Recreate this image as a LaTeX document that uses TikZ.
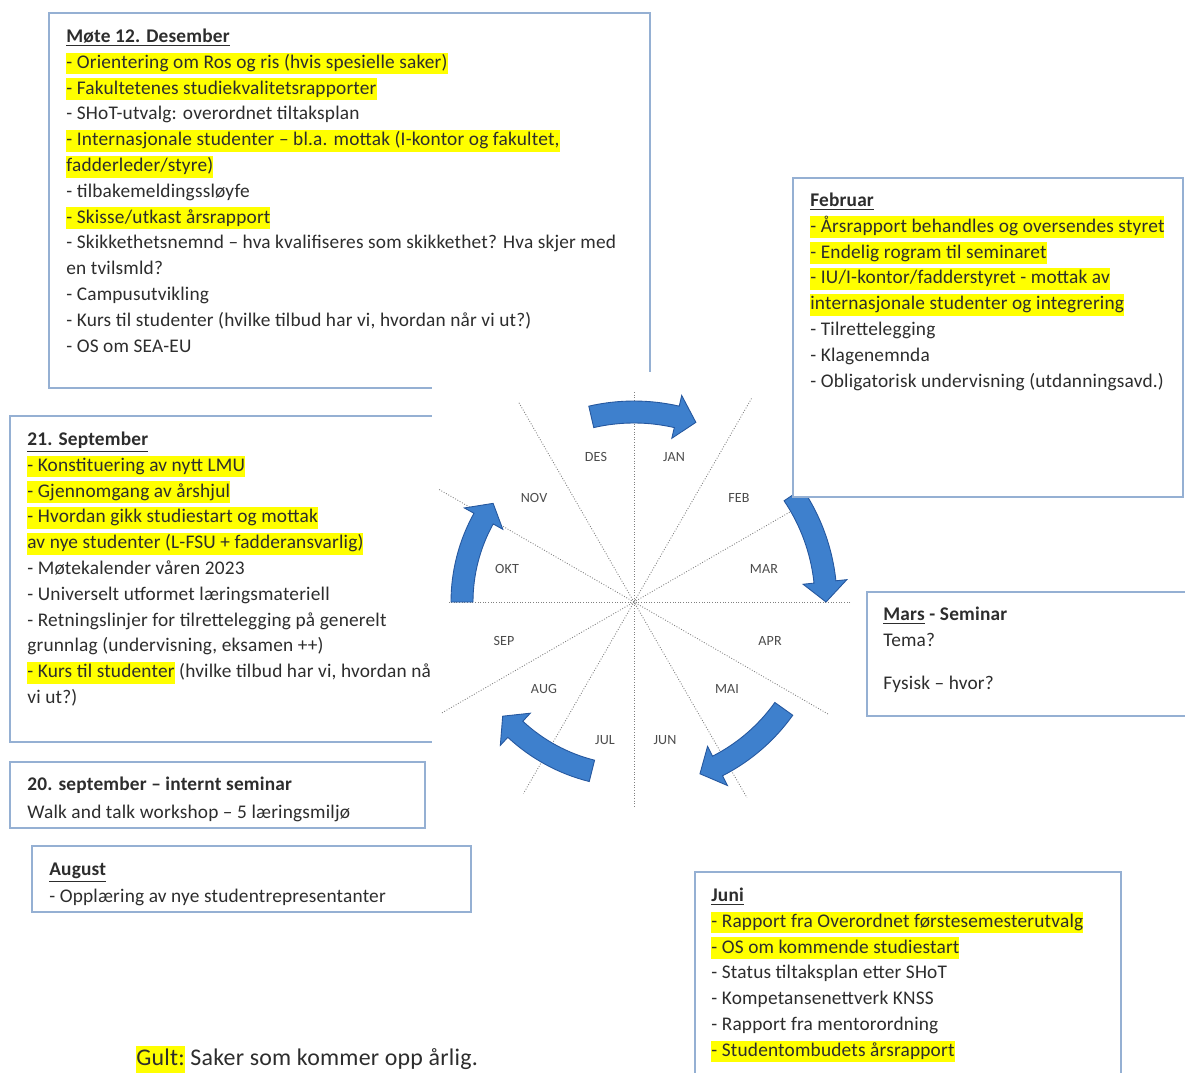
\documentclass[tikz,border=0pt]{standalone}
\usepackage{fontspec}
\setmainfont{Carlito}[LetterSpace=1.0]
\usepackage{xcolor}
\definecolor{boxline}{RGB}{149,176,211}
\definecolor{gultcol}{RGB}{255,255,0}
\definecolor{txt}{RGB}{45,45,45}
\definecolor{arrowblue}{RGB}{62,128,205}
\definecolor{arrowedge}{RGB}{37,87,158}
\newcommand{\bodysize}{\fontsize{11}{14.69}\selectfont}
\newcommand{\gult}[1]{{\setlength{\fboxsep}{0pt}\colorbox{gultcol}{\rule[-0.32em]{0pt}{1.13em}#1}}}
\newcommand{\wheelarrow}[3]{%
  \pgfmathsetmacro{\rA}{(#1+11)*0.02}%
  \pgfmathsetmacro{\rB}{(#1-11)*0.02}%
  \pgfmathsetmacro{\rC}{(#1+22)*0.02}%
  \pgfmathsetmacro{\rD}{(#1-22)*0.02}%
  \pgfmathsetmacro{\rM}{#1*0.02}%
  \pgfmathsetmacro{\aH}{#3+6}%
  \path[bluearrow] (#2:\rA cm) arc[start angle=#2, end angle=\aH, radius=\rA cm]
    -- (\aH:\rC cm) -- (#3:\rM cm) -- (\aH:\rD cm) -- (\aH:\rB cm)
    arc[start angle=\aH, end angle=#2, radius=\rB cm] -- cycle;}

\begin{document}
\begin{tikzpicture}[x=0.02cm, y=-0.02cm,
    box/.style={draw=boxline, line width=0.8pt, fill=white},
    boxtext/.style={anchor=north west, inner sep=0pt, align=left, text=txt, font=\bodysize},
    month/.style={font=\fontsize{8}{9}\selectfont, text=black!70},
    spoke/.style={densely dotted, gray, line width=0.5pt},
    bluearrow/.style={fill=arrowblue, draw=arrowedge, line width=0.5pt}]

  \useasboundingbox (0,0) rectangle (1185,1072);
  \clip (0,0) rectangle (1185,1072);
  \fill[white] (0,0) rectangle (1185,1072);

  \draw[box] (49,13) rectangle (650,388);
  \node[boxtext] (des) at (66,24) {\strut\underline{\textbf{Møte 12. Desember}}\\
    \gult{- Orientering om Ros og ris (hvis spesielle saker)}\\
    \gult{- Fakultetenes studiekvalitetsrapporter}\\
    - SHoT-utvalg: overordnet tiltaksplan\\
    \gult{- Internasjonale studenter – bl.a. mottak (I-kontor og fakultet,}\\
    \gult{fadderleder/styre)}\\
    - tilbakemeldingssløyfe\\
    \gult{- Skisse/utkast årsrapport}\\
    - Skikkethetsnemnd – hva kvalifiseres som skikkethet? Hva skjer med\\
    en tvilsmld?\\
    - Campusutvikling\\
    - Kurs til studenter (hvilke tilbud har vi, hvordan når vi ut?)\\
    - OS om SEA-EU};

  \draw[box] (10,416) rectangle (460,742);
  \node[boxtext] (sep) at (27,427) {\strut\underline{\textbf{21. September}}\\
    \gult{- Konstituering av nytt LMU}\\
    \gult{- Gjennomgang av årshjul}\\
    \gult{- Hvordan gikk studiestart og mottak}\\
    \gult{av nye studenter (L-FSU + fadderansvarlig)}\\
    - Møtekalender våren 2023\\
    - Universelt utformet læringsmateriell\\
    - Retningslinjer for tilrettelegging på generelt\\
    grunnlag (undervisning, eksamen ++)\\
    \gult{- Kurs til studenter} (hvilke tilbud har vi, hvordan når\\
    vi ut?)};

  \fill[white] (432,372) rectangle (862,822);

  \begin{scope}[shift={(634,602)}]
    \foreach \a/\ra/\rb in {0/216/187, 30/185/223, 60/235/221, 90/210/205, 120/230/226, 150/225/225}
      \draw[spoke] (\a:{\ra*0.02cm}) -- (\a+180:{\rb*0.02cm});
    \wheelarrow{190}{103}{71}
    \wheelarrow{192}{34}{0}
    \wheelarrow{184}{-35.5}{-69}
    \wheelarrow{174}{-104}{-139}
    \wheelarrow{172}{180}{145}
  \end{scope}
  \foreach \m/\x/\y in {DES/596/457, JAN/674/457, FEB/739/498, MAR/764/569, APR/770/641, MAI/727/689,
                        JUN/665/740, JUL/605/740, AUG/544/689, SEP/504/641, OKT/507/569, NOV/534/498}
    \node[month] (m-\m) at (\x,\y) {\m};

  \draw[box] (793,178) rectangle (1183,497);
  \node[boxtext] (feb) at (810,188) {\strut\underline{\textbf{Februar}}\\
    \gult{- Årsrapport behandles og oversendes styret}\\
    \gult{- Endelig rogram til seminaret}\\
    \gult{- IU/I-kontor/fadderstyret - mottak av}\\
    \gult{internasjonale studenter og integrering}\\
    - Tilrettelegging\\
    - Klagenemnda\\
    - Obligatorisk undervisning (utdanningsavd.)};

  \draw[box] (867,592) rectangle (1200,716);
  \node[boxtext] (mars) at (883,602) {\strut\underline{\textbf{Mars}}\textbf{ - Seminar}\\
    Tema?\\[0.34cm]
    Fysisk – hvor?};

  \draw[box] (10,762) rectangle (425,828);
  \node[boxtext] (seminar) at (27,772) {\strut\textbf{20. september – internt seminar}\\[0.04cm]
    Walk and talk workshop – 5 læringsmiljø};

  \draw[box] (32,846) rectangle (471,912);
  \node[boxtext] (aug) at (49,857) {\strut\underline{\textbf{August}}\\[0.02cm]
    - Opplæring av nye studentrepresentanter};

  \draw[box] (695,872) rectangle (1121,1100);
  \node[boxtext] (jun) at (711,883) {\strut\underline{\textbf{Juni}}\\
    \gult{- Rapport fra Overordnet førstesemesterutvalg}\\
    \gult{- OS om kommende studiestart}\\
    - Status tiltaksplan etter SHoT\\
    - Kompetansenettverk KNSS\\
    - Rapport fra mentorordning\\
    \gult{- Studentombudets årsrapport}};

  \node[anchor=base west, inner sep=0pt, text=txt, font=\fontsize{13.6}{16}\selectfont] (gult) at (136,1065)
    {\gult{Gult:} Saker som kommer opp årlig.};
\end{tikzpicture}
\end{document}
